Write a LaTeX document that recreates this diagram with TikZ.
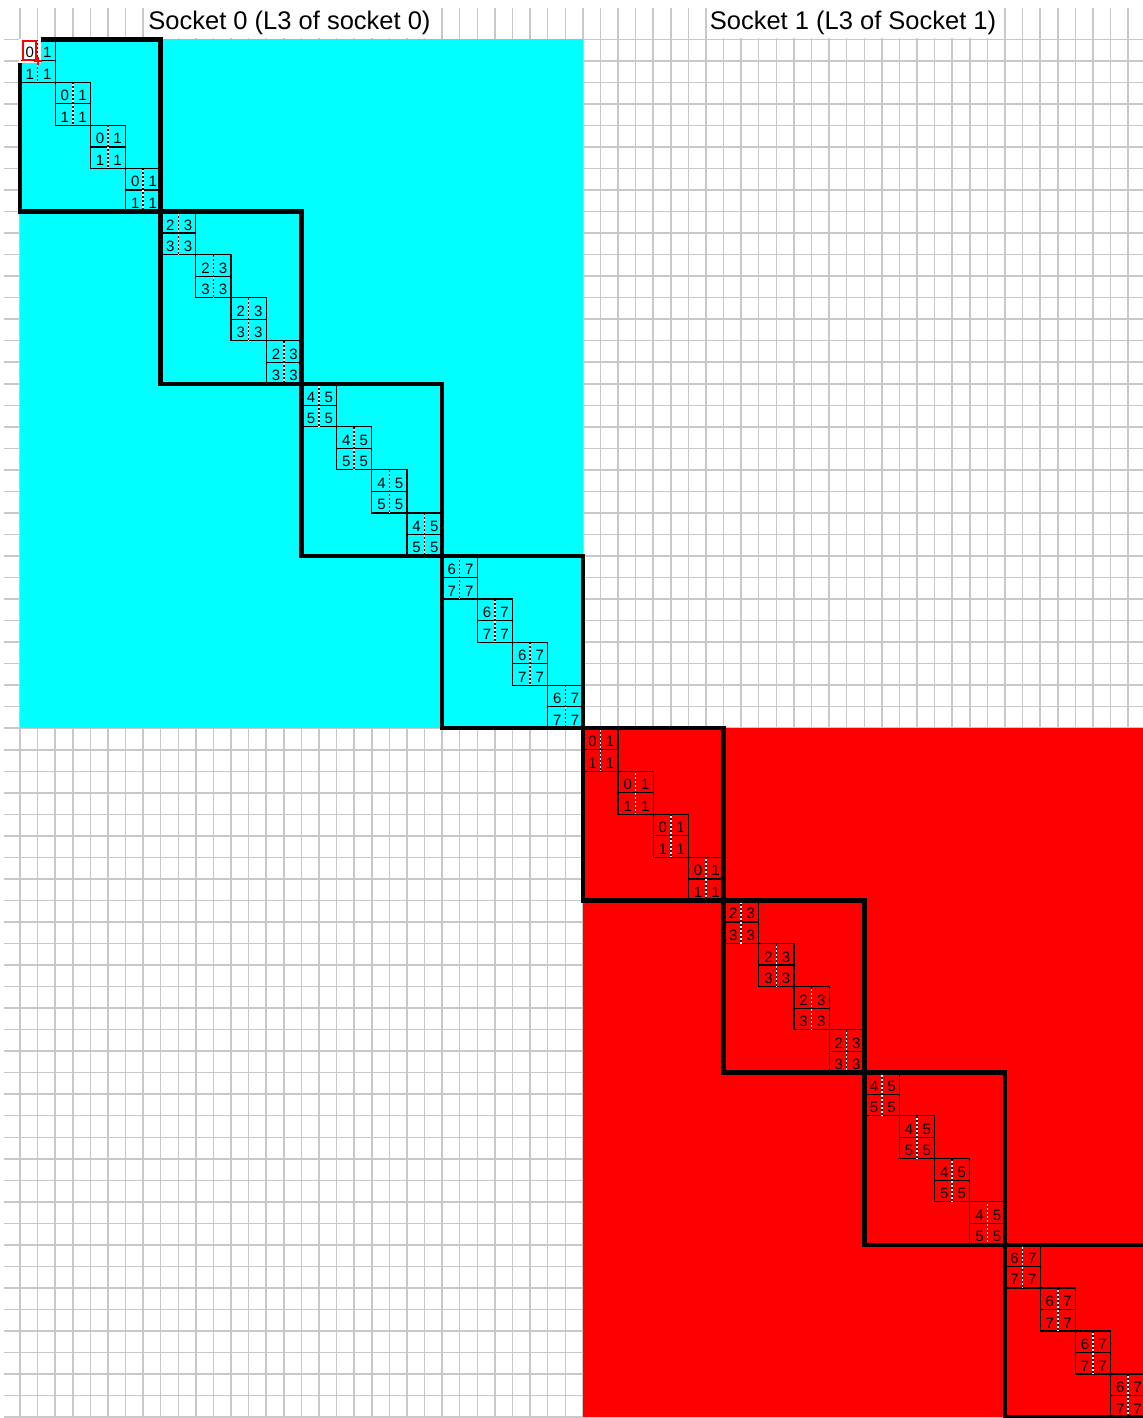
\documentclass[tikz,border=0pt]{standalone}
\usepackage{fontspec}
\setmainfont{Liberation Sans}

\definecolor{gridgray}{RGB}{200,200,200}
\definecolor{sockcyan}{RGB}{0,255,255}
\definecolor{sockred}{RGB}{255,0,0}

\tikzset{
  gridline/.style={draw=gridgray, line width=1.5pt},
  pairbox/.style={draw=black, line width=1.2pt},
  splitline/.style={draw=white, line width=1.5pt, postaction={draw=black, dash pattern=on 2pt off 2pt}},
  cachebox/.style={draw=black, line width=4.5pt},
  celldigit/.style={anchor=base, inner sep=0pt, font=\fontsize{15}{15}\selectfont},
  sockettitle/.style={anchor=base, fill=white, inner xsep=3pt, inner ysep=0pt, text height=22pt, text depth=8pt, font=\fontsize{25.5}{30}\selectfont}
}

\begin{document}
\begin{tikzpicture}[x=17.59pt,y=-21.53pt]
  \useasboundingbox (-1.137,-1.825) rectangle (63.84,64.04);
  \clip (-1.137,-1.825) rectangle (63.84,64.04);
  % grid: rows run into the left margin, columns into the title row
  \foreach \r in {0,...,64} \draw[gridline] (-0.91,\r) -- (64,\r);
  \foreach \c in {0,...,64} \draw[gridline] (\c,-1.45) -- (\c,64);
  % sockets
  \fill[sockcyan] (0,0) rectangle (32,32);    % socket 0
  \fill[sockred]  (32,32) rectangle (64,64);  % socket 1
  \fill[white] (0,0) rectangle (1.19,1.1);    % selected cell
  % titles
  \node[sockettitle] (sock0) at (15.32,-0.432) {Socket 0 (L3 of socket 0)};
  \node[sockettitle] (sock1) at (47.36,-0.432) {Socket 1 (L3 of Socket 1)};
  % 2x2 pairs on the diagonal
  \foreach \s in {0,1}
    \foreach \b in {0,...,3}
      \foreach \p in {0,...,3}{
        \pgfmathtruncatemacro\o{32*\s+8*\b+2*\p}
        \pgfmathtruncatemacro\lo{2*\b}
        \pgfmathtruncatemacro\hi{2*\b+1}
        \draw[pairbox] (\o,\o) rectangle ++(2,2) (\o,\o+1) -- ++(2,0);
        \draw[splitline] (\o+1,\o) -- ++(0,2);
        \node[celldigit] (d\s\b\p-tl) at (\o+0.55,\o+0.86) {\lo};
        \node[celldigit] (d\s\b\p-tr) at (\o+1.55,\o+0.86) {\hi};
        \node[celldigit] (d\s\b\p-bl) at (\o+0.55,\o+1.86) {\hi};
        \node[celldigit] (d\s\b\p-br) at (\o+1.55,\o+1.86) {\hi};
      }
  % cursor
  \draw[white, line width=1.2pt] (0,0) -- (1.19,0) (0,0) -- (0,1.1);
  \draw[sockred, line width=1.5pt] (0.17,0.08) rectangle (0.91,0.97);
  \draw[sockred, line width=2pt] (0.8,1.01) -- (1.25,1.01) (1.02,0.82) -- (1.02,1.2);
  % L3 blocks
  \foreach \s in {0,1}
    \foreach \b in {0,...,3}{
      \pgfmathtruncatemacro\o{32*\s+8*\b}
      \ifnum\o=0
        \draw[cachebox] (1.19,0) -- (8,0) -- (8,8) -- (0,8) -- (0,1.1);
      \else
        \draw[cachebox] (\o,\o) rectangle ++(8,8);
      \fi
    }
\end{tikzpicture}
\end{document}
